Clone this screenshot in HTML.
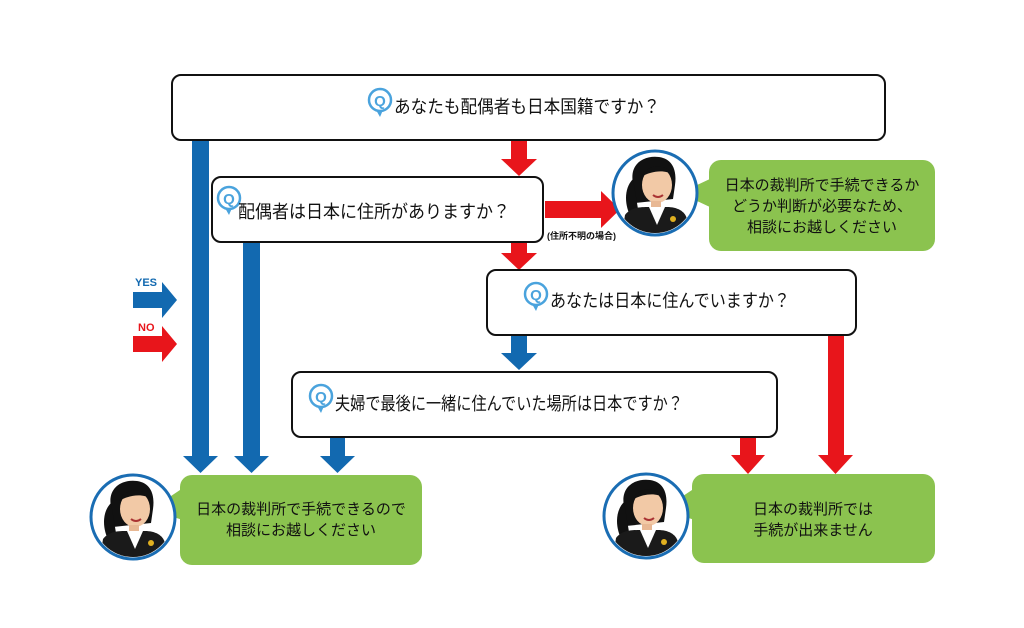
<!DOCTYPE html>
<html><head><meta charset="utf-8"><style>
html,body{margin:0;padding:0;background:#fff;}
svg{display:block;}
text{font-family:"Liberation Sans","Noto Sans CJK JP",sans-serif;}
</style></head><body>
<svg width="1024" height="628" viewBox="0 0 1024 628" xmlns="http://www.w3.org/2000/svg">
<defs>
<g id="av">
  <circle cx="0" cy="0" r="42" fill="#fff" stroke="#1a6db3" stroke-width="3"/>
  <clipPath id="cc"><circle cx="0" cy="0" r="40"/></clipPath>
  <g clip-path="url(#cc)">
    <path d="M-22 -10 C-26 -30 -10 -38 4 -36 C18 -34 22 -22 20 -8 L18 6 L-20 10 Z" fill="#111"/>
    <path d="M-22 -14 C-32 -4 -30 14 -24 24 L-16 22 Z" fill="#111"/>
    <ellipse cx="2" cy="-8" rx="15" ry="18" fill="#f2c9a6"/>
    <path d="M-14 -16 C-8 -30 12 -30 18 -18 C10 -24 -4 -22 -14 -16 Z" fill="#111"/>
    <rect x="-4" y="8" width="10" height="10" fill="#e8b894"/>
    <path d="M-34 48 L-30 22 C-24 14 -14 14 -6 14 L12 14 C22 14 30 18 32 26 L34 48 Z" fill="#1a1a1a"/>
    <path d="M-6 14 L2 32 L10 14 Z" fill="#fff"/>
    <circle cx="18" cy="26" r="3" fill="#e0b020"/>
    <path d="M-2 2 Q3 6 8 2" stroke="#a33" stroke-width="2" fill="none"/>
  </g>
</g>
<g id="q">
  <circle cx="0" cy="0" r="11" fill="#fff" stroke="#4aa3dd" stroke-width="2.5"/>
  <path d="M-4 10 L0 17 L3 10 Z" fill="#4aa3dd"/>
  <text x="0" y="6" text-anchor="middle" font-size="15" font-weight="bold" fill="#4aa3dd">Q</text>
</g>
</defs>

<!-- blue arrows -->
<g fill="#1269b0">
  <rect x="192" y="140" width="17" height="318"/><polygon points="183,456 218,456 200.5,473"/>
  <rect x="243" y="242" width="17" height="216"/><polygon points="234,456 269,456 251.5,473"/>
  <rect x="330" y="437" width="15" height="21"/><polygon points="320,456 355,456 337.5,473"/>
  <rect x="511" y="335" width="16" height="20"/><polygon points="501,353 537,353 519,370"/>
  <rect x="133" y="292" width="30" height="16"/><polygon points="162,282 177,300 162,318"/>
</g>
<!-- red arrows -->
<g fill="#e8151b">
  <rect x="511" y="140" width="16" height="21"/><polygon points="501,159 537,159 519,176"/>
  <rect x="511" y="242" width="16" height="13"/><polygon points="501,253 537,253 519,270"/>
  <rect x="545" y="201" width="58" height="17"/><polygon points="601,191 620,209.5 601,228"/>
  <rect x="828" y="335" width="16" height="121"/><polygon points="818,455 853,455 835.5,474"/>
  <rect x="740" y="437" width="16" height="19"/><polygon points="731,455 765,455 748,474"/>
  <rect x="133" y="336" width="30" height="16"/><polygon points="162,326 177,344 162,362"/>
</g>
<text x="135" y="286" font-size="11" font-weight="bold" fill="#1269b0">YES</text>
<text x="138" y="331" font-size="11" font-weight="bold" fill="#e8151b">NO</text>

<!-- question boxes -->
<g fill="#fff" stroke="#111" stroke-width="2">
  <rect x="172" y="75" width="713" height="65" rx="9"/>
  <rect x="212" y="177" width="331" height="65" rx="9"/>
  <rect x="487" y="270" width="369" height="65" rx="9"/>
  <rect x="292" y="372" width="485" height="65" rx="9"/>
</g>
<use href="#q" x="380" y="100"/>
<text x="394" y="113" font-size="18" fill="#111" textLength="266" lengthAdjust="spacingAndGlyphs">あなたも配偶者も日本国籍ですか？</text>
<use href="#q" x="229" y="198"/>
<text x="238" y="218" font-size="18" fill="#111" textLength="272" lengthAdjust="spacingAndGlyphs">配偶者は日本に住所がありますか？</text>
<text x="547" y="239" font-size="9" font-weight="bold" fill="#111">(住所不明の場合)</text>
<use href="#q" x="536" y="294"/>
<text x="550" y="307" font-size="18" fill="#111" textLength="240" lengthAdjust="spacingAndGlyphs">あなたは日本に住んでいますか？</text>
<use href="#q" x="321" y="396"/>
<text x="335" y="410" font-size="18" fill="#111" textLength="348" lengthAdjust="spacingAndGlyphs">夫婦で最後に一緒に住んでいた場所は日本ですか？</text>

<!-- bubbles -->
<g fill="#8bc34f">
  <rect x="709" y="160" width="226" height="91" rx="12"/><polygon points="712,178 680,193 712,208"/>
  <rect x="180" y="475" width="242" height="90" rx="12"/><polygon points="183,488 150,510 183,520"/>
  <rect x="692" y="474" width="243" height="89" rx="12"/><polygon points="695,488 662,510 695,520"/>
</g>
<g font-size="15" fill="#111" text-anchor="middle">
  <text x="822" y="190">日本の裁判所で手続できるか</text>
  <text x="822" y="211">どうか判断が必要なため、</text>
  <text x="822" y="232">相談にお越しください</text>
  <text x="301" y="514">日本の裁判所で手続できるので</text>
  <text x="301" y="535">相談にお越しください</text>
  <text x="813" y="514">日本の裁判所では</text>
  <text x="813" y="535">手続が出来ません</text>
</g>

<use href="#av" x="655" y="193"/>
<use href="#av" x="133" y="517"/>
<use href="#av" x="646" y="516"/>
</svg>
</body></html>
